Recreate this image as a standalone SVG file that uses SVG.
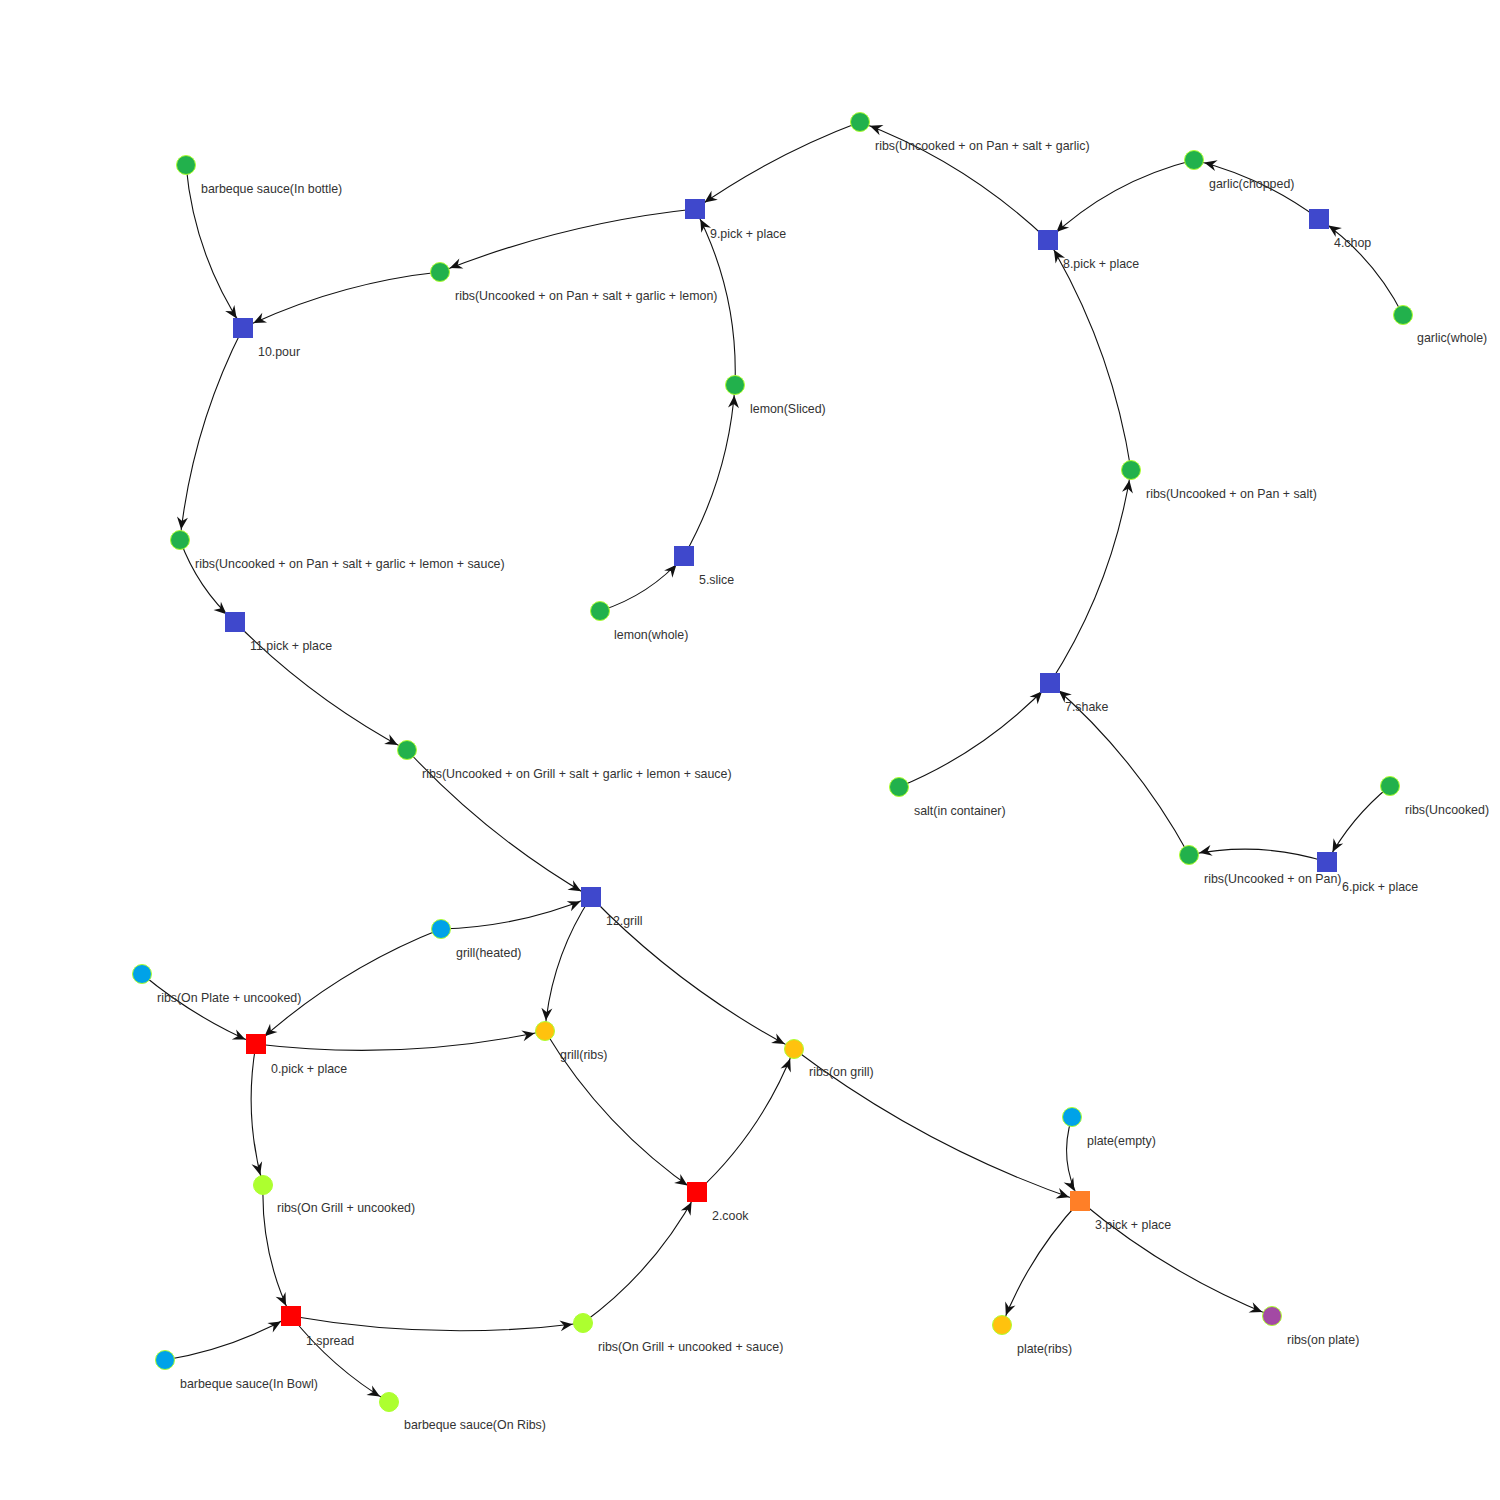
<svg xmlns="http://www.w3.org/2000/svg" width="1500" height="1500" viewBox="0 0 1500 1500">
<style>
.e{fill:none;stroke:#111;stroke-width:1.1}
.ec{marker-end:url(#ac)}
.es{marker-end:url(#as)}
.n circle{stroke:#adff2f;stroke-width:1}
.g{fill:#22b14c}.c{fill:#00a2e8}.y{fill:#ffc20e}.l{fill:#adff2f}.p{fill:#a349a4}
.b{fill:#3f48cc}.r{fill:#ff0000}.o{fill:#ff7f27}
text{font-family:"Liberation Sans",Arial,sans-serif;font-size:12.4px;fill:#333}
</style>
<defs>
<marker id="ac" markerUnits="userSpaceOnUse" markerWidth="30" markerHeight="30" viewBox="-30 -15 30 30" refX="0" refY="0" orient="auto" overflow="visible"><path d="M-10.5,0 L-23,-5.5 L-19,0 L-23,5.5 Z" fill="#111"/></marker>
<marker id="as" markerUnits="userSpaceOnUse" markerWidth="30" markerHeight="30" viewBox="-30 -15 30 30" refX="0" refY="0" orient="auto" overflow="visible"><path d="M-11.5,0 L-24,-5.5 L-20,0 L-24,5.5 Z" fill="#111"/></marker>
</defs>
<rect width="1500" height="1500" fill="#fff"/>
<g id="connectors">
<path class="e es" d="M860,122 Q772,155 695,209"/>
<path class="e ec" d="M1048,240 Q966,162 860,122"/>
<path class="e es" d="M1194,160 Q1110,181 1048,240"/>
<path class="e ec" d="M1319,219 Q1262.5,177 1194,160"/>
<path class="e es" d="M1403,315 Q1373,256 1319,219"/>
<path class="e ec" d="M695,209 Q563,223 440,272"/>
<path class="e es" d="M735,385 Q738.5,292 695,209"/>
<path class="e ec" d="M684,556 Q729,476 735,385"/>
<path class="e es" d="M600,611 Q650,595 684,556"/>
<path class="e es" d="M186,165 Q194,254 243,328"/>
<path class="e es" d="M440,272 Q337,283 243,328"/>
<path class="e ec" d="M243,328 Q192,428 180,540"/>
<path class="e es" d="M180,540 Q197.5,588 235,622"/>
<path class="e ec" d="M235,622 Q311.5,699 407,750"/>
<path class="e es" d="M407,750 Q488,837.5 591,897"/>
<path class="e es" d="M441,929 Q519,927 591,897"/>
<path class="e ec" d="M591,897 Q551,958 545,1031"/>
<path class="e ec" d="M591,897 Q680.5,989 794,1049"/>
<path class="e es" d="M1131,470 Q1112,347 1048,240"/>
<path class="e ec" d="M1050,683 Q1113,585 1131,470"/>
<path class="e es" d="M899,787 Q986,751 1050,683"/>
<path class="e es" d="M1189,855 Q1135,756 1050,683"/>
<path class="e ec" d="M1327,862 Q1259,840.5 1189,855"/>
<path class="e es" d="M1390,786 Q1351,817.5 1327,862"/>
<path class="e es" d="M142,974 Q194,1017.5 256,1044"/>
<path class="e es" d="M441,929 Q338,969.5 256,1044"/>
<path class="e ec" d="M256,1044 Q401.5,1061.5 545,1031"/>
<path class="e ec" d="M256,1044 Q243.5,1115 263,1185"/>
<path class="e es" d="M263,1185 Q261,1254 291,1316"/>
<path class="e es" d="M165,1360 Q232,1349 291,1316"/>
<path class="e ec" d="M291,1316 Q436.5,1341.5 583,1323"/>
<path class="e ec" d="M291,1316 Q332,1368 389,1402"/>
<path class="e es" d="M583,1323 Q655,1270.5 697,1192"/>
<path class="e es" d="M545,1031 Q603.5,1128 697,1192"/>
<path class="e ec" d="M697,1192 Q762,1131.5 794,1049"/>
<path class="e es" d="M794,1049 Q925,1148 1080,1201"/>
<path class="e es" d="M1072,1117 Q1058,1161 1080,1201"/>
<path class="e ec" d="M1080,1201 Q1029,1255.5 1002,1325"/>
<path class="e ec" d="M1080,1201 Q1167,1274 1272,1316"/>
</g>
<g id="nodes" class="n">
<g id="n-ribs-pan-salt-garlic"><circle class="g" cx="860" cy="122" r="9.5"/><text x="875" y="150">ribs(Uncooked + on Pan + salt + garlic)</text></g>
<g id="n-garlic-chopped"><circle class="g" cx="1194" cy="160" r="9.5"/><text x="1209" y="188">garlic(chopped)</text></g>
<g id="n-bbq-bottle"><circle class="g" cx="186" cy="165" r="9.5"/><text x="201" y="193">barbeque sauce(In bottle)</text></g>
<g id="n-ribs-lemon"><circle class="g" cx="440" cy="272" r="9.5"/><text x="455" y="300">ribs(Uncooked + on Pan + salt + garlic + lemon)</text></g>
<g id="n-garlic-whole"><circle class="g" cx="1403" cy="315" r="9.5"/><text x="1417" y="342">garlic(whole)</text></g>
<g id="n-lemon-sliced"><circle class="g" cx="735" cy="385" r="9.5"/><text x="750" y="413">lemon(Sliced)</text></g>
<g id="n-ribs-salt"><circle class="g" cx="1131" cy="470" r="9.5"/><text x="1146" y="498">ribs(Uncooked + on Pan + salt)</text></g>
<g id="n-ribs-sauce"><circle class="g" cx="180" cy="540" r="9.5"/><text x="195" y="568">ribs(Uncooked + on Pan + salt + garlic + lemon + sauce)</text></g>
<g id="n-lemon-whole"><circle class="g" cx="600" cy="611" r="9.5"/><text x="614" y="639">lemon(whole)</text></g>
<g id="n-ribs-grill-all"><circle class="g" cx="407" cy="750" r="9.5"/><text x="422" y="778">ribs(Uncooked + on Grill + salt + garlic + lemon + sauce)</text></g>
<g id="n-salt"><circle class="g" cx="899" cy="787" r="9.5"/><text x="914" y="815">salt(in container)</text></g>
<g id="n-ribs-uncooked"><circle class="g" cx="1390" cy="786" r="9.5"/><text x="1405" y="814">ribs(Uncooked)</text></g>
<g id="n-ribs-pan"><circle class="g" cx="1189" cy="855" r="9.5"/><text x="1204" y="883">ribs(Uncooked + on Pan)</text></g>
<g id="n-grill-heated"><circle class="c" cx="441" cy="929" r="9.5"/><text x="456" y="957">grill(heated)</text></g>
<g id="n-ribs-plate-uncooked"><circle class="c" cx="142" cy="974" r="9.5"/><text x="157" y="1002">ribs(On Plate + uncooked)</text></g>
<g id="n-grill-ribs"><circle class="y" cx="545" cy="1031" r="9.5"/><text x="560" y="1059">grill(ribs)</text></g>
<g id="n-ribs-on-grill"><circle class="y" cx="794" cy="1049" r="9.5"/><text x="809" y="1076">ribs(on grill)</text></g>
<g id="n-plate-empty"><circle class="c" cx="1072" cy="1117" r="9.5"/><text x="1087" y="1145">plate(empty)</text></g>
<g id="n-ribs-grill-uncooked"><circle class="l" cx="263" cy="1185" r="9.5"/><text x="277" y="1212">ribs(On Grill + uncooked)</text></g>
<g id="n-ribs-grill-sauce"><circle class="l" cx="583" cy="1323" r="9.5"/><text x="598" y="1351">ribs(On Grill + uncooked + sauce)</text></g>
<g id="n-plate-ribs"><circle class="y" cx="1002" cy="1325" r="9.5"/><text x="1017" y="1353">plate(ribs)</text></g>
<g id="n-ribs-on-plate"><circle class="p" cx="1272" cy="1316" r="9.5"/><text x="1287" y="1344">ribs(on plate)</text></g>
<g id="n-bbq-bowl"><circle class="c" cx="165" cy="1360" r="9.5"/><text x="180" y="1388">barbeque sauce(In Bowl)</text></g>
<g id="n-bbq-on-ribs"><circle class="l" cx="389" cy="1402" r="9.5"/><text x="404" y="1429">barbeque sauce(On Ribs)</text></g>
<g id="a9"><rect class="b" x="685" y="199" width="20" height="20"/><text x="710" y="238">9.pick + place</text></g>
<g id="a8"><rect class="b" x="1038" y="230" width="20" height="20"/><text x="1063" y="268">8.pick + place</text></g>
<g id="a4"><rect class="b" x="1309" y="209" width="20" height="20"/><text x="1334" y="247">4.chop</text></g>
<g id="a10"><rect class="b" x="233" y="318" width="20" height="20"/><text x="258" y="356">10.pour</text></g>
<g id="a5"><rect class="b" x="674" y="546" width="20" height="20"/><text x="699" y="584">5.slice</text></g>
<g id="a11"><rect class="b" x="225" y="612" width="20" height="20"/><text x="250" y="650">11.pick + place</text></g>
<g id="a7"><rect class="b" x="1040" y="673" width="20" height="20"/><text x="1065" y="711">7.shake</text></g>
<g id="a6"><rect class="b" x="1317" y="852" width="20" height="20"/><text x="1342" y="891">6.pick + place</text></g>
<g id="a12"><rect class="b" x="581" y="887" width="20" height="20"/><text x="606" y="925">12.grill</text></g>
<g id="a0"><rect class="r" x="246" y="1034" width="20" height="20"/><text x="271" y="1073">0.pick + place</text></g>
<g id="a2"><rect class="r" x="687" y="1182" width="20" height="20"/><text x="712" y="1220">2.cook</text></g>
<g id="a3"><rect class="o" x="1070" y="1191" width="20" height="20"/><text x="1095" y="1229">3.pick + place</text></g>
<g id="a1"><rect class="r" x="281" y="1306" width="20" height="20"/><text x="306" y="1345">1.spread</text></g>
</g>
</svg>
